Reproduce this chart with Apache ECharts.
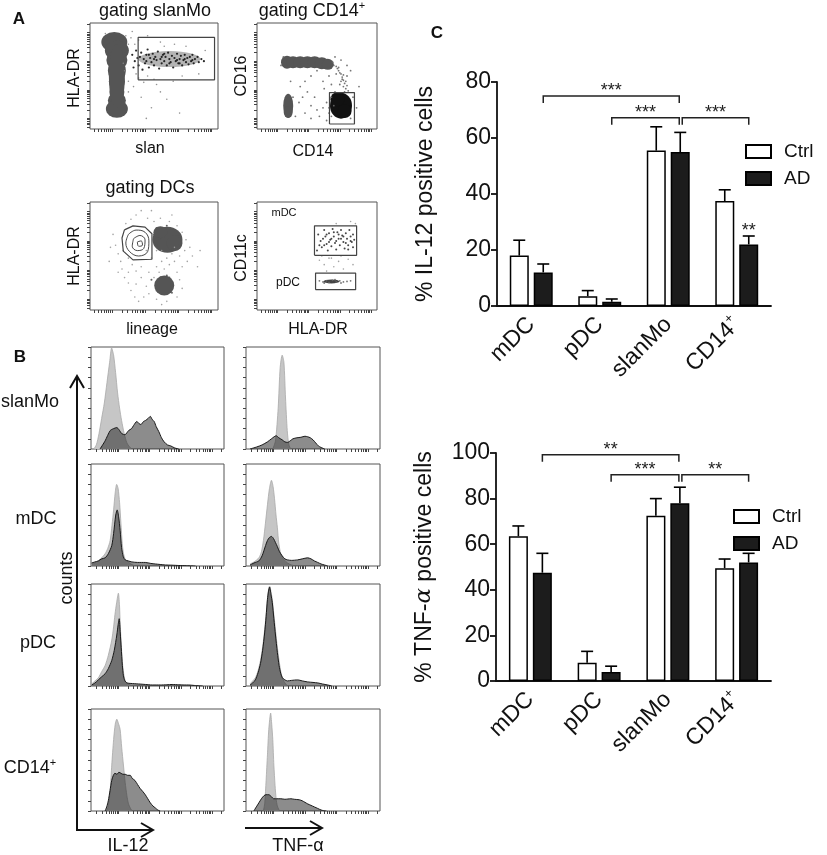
<!DOCTYPE html>
<html>
<head>
<meta charset="utf-8">
<script src="https://cdn.jsdelivr.net/npm/echarts@6/dist/echarts.min.js"></script>
<style>
html, body { margin: 0; padding: 0; background: #fff; }
#fig { width: 827px; height: 855px; }
</style>
</head>
<body>
<div id="fig"></div>
<script>
var FONT = '"Liberation Sans", Arial, Helvetica, sans-serif';

// ---------- panel C : bar charts ----------
var cellTypes = ['mDC', 'pDC', 'slanMo', 'CD14+'];
var il12Ctrl = [18, 3.5, 55.5, 37.5];
var il12CtrlTop = [23.5, 5.5, 64, 41.5];   // mean + SEM
var il12AD = [12, 1.5, 55, 22];
var il12ADTop = [15, 2.5, 62, 25];
var tnfCtrl = [63.5, 8, 72.5, 49.5];
var tnfCtrlTop = [68, 13, 80, 53.5];
var tnfAD = [47.5, 4, 78, 52];
var tnfADTop = [56, 6.5, 85, 56];
// [from category, to category, level, stars]
var il12Sig = [[0, 2, 75, '***'], [1, 2, 67.2, '***'], [2, 3, 67.2, '***']];
var tnfSig = [[0, 2, 99.2, '**'], [1, 2, 90.5, '***'], [2, 3, 90.5, '**']];
var il12Star = [[3, 28.3, '**']];

// ---------- panel B : histograms [x %, height %] ----------
var slanIl12Iso = [[2,0],[4,4],[6,15],[8,30],[10,45],[12,65],[14,85],[15.5,99],[17,92],[18.5,75],[20,55],[21.5,40],[23,28],[25,15],[27,6],[29,2],[31,0]];
var slanIl12 = [[6.8,0],[10.6,8],[14.4,18],[17,20],[19.4,21],[21,19],[23.2,15],[25.5,14],[28.2,18],[30.5,20],[32,23],[34.5,27],[36,25],[37.5,24],[39.5,27],[41,28],[43,30],[44.6,32],[46,29],[47.5,27],[49,22],[51,17],[53,11],[55,7],[57.5,4],[60,3],[63,1],[66,0]];
var slanTnfIso = [[20,0],[22,8],[24,40],[25.5,80],[27,92],[28.3,85],[29.5,50],[30.8,18],[32,4],[33.5,0]];
var slanTnf = [[3,0],[8,2],[12,4],[16,7],[19,10],[21,12],[22.5,13],[24.5,11],[27,9],[29,7],[31,6.5],[33,8],[35,10],[38,11],[41,11.5],[44,12.5],[46,12],[48,11],[50,9],[52,6],[54,3],[56,1.5],[58.7,0]];
var mdcIl12Iso = [[0.5,2],[3,3],[5.5,5],[8,8],[10.6,12],[12.5,17],[14.4,25],[15.8,40],[17,55],[18.2,72],[19.3,80],[20.4,76],[21.5,62],[22.5,42],[23.5,22],[24.5,12],[26,6],[28,4],[30,2],[33,0]];
var mdcIl12 = [[0.5,3],[3,4],[5.5,5],[8,7],[10.6,8],[13,12],[15.6,20],[17,32],[18.6,50],[19.7,55],[20.8,48],[21.9,35],[23,18],[24.3,9],[25.7,6],[28,5],[30.7,4],[35,3.5],[40.8,3.5],[45,2.5],[48.4,2],[52,1.5],[56,1],[61,0.8],[66,0.5],[72,0.3],[78.6,0]];
var mdcTnfIso = [[3,2],[6,4],[9.6,8],[11.5,14],[13,25],[14.5,42],[16,60],[17.5,76],[19,84],[20.2,78],[21.3,66],[22.4,50],[23.4,38],[24.5,22],[26,12],[28.5,6],[31,3],[34,1],[37,0]];
var mdcTnf = [[3,1],[6,3],[9.6,5],[12,10],[14.6,20],[16,25],[17.5,28],[19,29],[20.5,27],[22,23],[23.4,19],[25,14],[27,10],[29,7],[31,6],[34,5.5],[38.5,6],[42,7],[46,8],[48.5,7],[51,5],[53.5,3.5],[56,2],[58.5,1],[61,0]];
var pdcIl12Iso = [[0.5,2],[3,5],[5.5,8],[8,14],[10.6,20],[13,30],[15.6,45],[17,58],[18,70],[19.3,82],[20.6,91],[21.4,80],[22,60],[23,35],[24,18],[25.7,5],[28,2],[31,0]];
var pdcIl12 = [[0.5,1],[3,3],[5.5,6],[8,9],[10.6,12],[13,17],[15.6,25],[17.5,35],[19.4,50],[20.4,60],[21.2,66],[22,52],[22.7,38],[23.6,20],[24.4,10],[25.5,5],[27,3],[30,2.5],[35.8,2],[41,1.5],[46,1],[52,1],[57,1.2],[61,1.5],[66,1.2],[70,1],[73.5,1],[78,0.5],[84,0]];
var pdcTnfIso = [[3,2],[5,5],[7,8],[9,15],[10.8,25],[12.4,38],[13.9,55],[15,70],[16,85],[16.8,94],[17.6,98],[18.6,93],[19.6,85],[20.8,70],[22,55],[23.4,38],[24.7,25],[26,14],[27.2,8],[28.5,4],[29.7,2],[31,0]];
var pdcTnf = [[3,1],[5,3],[7,6],[9,13],[10.8,22],[12.4,35],[13.9,52],[15,68],[16,85],[16.8,93],[17.6,97],[18.6,90],[19.6,82],[20.8,66],[22,50],[23.4,33],[24.7,20],[26,12],[27.2,8],[29,6],[31,5],[34,5.5],[38.5,6],[42,5],[46,4],[50,3.5],[53.6,3],[57,2],[61,1],[64,0]];
var cd14Il12Iso = [[11.8,0],[13,5],[14.4,20],[15.6,45],[17,70],[18.2,85],[19.4,90],[20.6,86],[21.9,80],[23.1,62],[24.4,45],[25.7,28],[27,15],[28.2,7],[29.5,3],[31,0]];
var cd14Il12 = [[10.6,0],[11.8,4],[13,10],[14.3,20],[15.6,30],[16.8,35],[18,37],[19.5,36],[21,38],[22.5,37],[24,36],[25.7,36],[27.5,35],[29.5,35],[31,32],[33,30],[35,26],[37,22],[39,19],[40.8,16],[42.7,12],[44.6,8],[46.5,5],[48.4,3],[50.2,1],[52,0]];
var cd14TnfIso = [[13,0],[14,8],[15,30],[16,55],[17,80],[18.4,96],[19.2,85],[20,70],[20.8,45],[21.7,25],[22.5,12],[23.4,5],[25,0]];
var cd14Tnf = [[5.8,0],[7.7,4],[9.6,8],[11.5,12],[13.4,15],[15,16],[17,16],[19,14],[20.7,12],[23,12],[26,12],[29,11.5],[33.5,12],[36,11.5],[39.8,11],[42,10],[44,8.5],[46,7],[48.5,5.5],[51,4],[53.5,2.5],[56,1],[58,0.3],[60,0]];

// ---------- panel A : dot plots [x %, y %] and blobs [x %, y %, w px, h px] ----------
var slanBlobs = [[19,82,26,20],[21,74,24,20],[21,65,21,20],[21,55,18,22],[21,45,16,20],[21,35,15,18],[21,27,18,16],[21,19,22,18],[21,50,16,64]];
var slanBand = [[33,70],[35,64],[36,74],[38,60],[39,68],[40,72],[41,56],[42,66],[43,62],[44,70],[45,75],[46,58],[47,67],[48,63],[49,71],[50,60],[51,68],[52,65],[53,73],[54,57],[55,66],[56,62],[57,70],[58,64],[59,68],[60,60],[61,72],[62,66],[63,63],[64,69],[65,58],[66,67],[67,64],[68,71],[69,62],[70,66],[71,69],[72,60],[73,65],[74,70],[75,63],[76,67],[77,61],[78,68],[79,64],[80,70],[81,62],[82,66],[84,68],[85,63],[87,66],[89,64],[34,58],[37,67],[44,64],[50,66],[56,68],[62,62],[68,65],[74,66],[80,65],[46,70],[58,71],[70,62]];
var slanSparse = [[30,45],[34,40],[38,48],[42,44],[36,52],[45,50],[50,47],[28,88],[33,92],[45,88],[55,82],[40,30],[48,20],[55,35],[60,28],[70,15],[44,10],[30,35],[27,55],[26,62],[30,80],[52,42],[65,45],[72,50],[85,52],[90,74],[58,78],[66,80],[75,78],[12,90],[32,86],[35,80],[38,84]];
var slanGate = [37.6, 46.4, 97.3, 86.4];

var cd14Blobs = [[25,63,12,13],[30,63,14,12],[36,63,14,12],[42,63,14,12],[48,63,14,12],[54,62,14,12],[59,61,12,11],[26,22,10,24],[26,16,9,12]];
var cd14Core = [[70,22,22,26],[67,28,14,14],[73,17,14,14]];
var cd14Sparse = [[64,60],[66,59],[67,57],[68,55],[69,53],[70,52],[71,49],[71,47],[72,46],[73,43],[72,40],[74,38],[70,45],[75,50],[66,52],[69,42],[73,35],[65,35],[62,30],[58,25],[55,20],[50,18],[45,22],[40,15],[35,25],[38,30],[42,35],[48,30],[52,12],[60,15],[58,8],[45,10],[32,12],[30,30],[36,40],[55,45],[60,50],[50,55],[45,50],[40,45],[28,45],[20,60],[22,68],[65,68],[70,65],[75,60],[78,55],[80,30],[83,20],[78,10],[85,40],[62,42],[56,38],[63,63],[68,58],[72,51],[74,45],[75,41],[76,36],[64,22],[60,20],[62,12]];
var cd14Gate = [60.4, 4.7, 81.2, 34.4];

var dcBlobs = [[60.5,65,30,26],[55,72,14,12],[66,62,16,16],[58,22.7,20,20]];
var dcSparse = [[20,60],[22,52],[24,45],[25,38],[27,30],[30,25],[32,18],[35,12],[38,8],[28,80],[32,84],[36,88],[40,92],[45,85],[50,82],[55,85],[62,82],[68,78],[72,72],[75,65],[78,58],[80,50],[76,45],[72,40],[68,35],[70,28],[72,20],[68,12],[60,8],[52,10],[46,15],[44,22],[40,30],[36,36],[33,42],[40,40],[46,35],[50,30],[52,40],[56,45],[60,48],[64,52],[66,58],[48,48],[44,55],[52,55],[56,55],[62,42],[66,45],[54,35],[58,38],[30,48],[26,55],[18,70],[16,58],[84,40],[86,55],[15,45],[22,35],[48,92],[64,88],[42,12],[56,5],[36,24],[30,35],[70,50],[74,55]];
var dcDense = [[52,60],[54,66],[58,74],[66,74],[70,68],[70,60],[64,56],[50,70],[52,76],[60,78],[48,28],[52,18],[62,30],[64,16],[55,30],[60,32]];
var dcGate = [[26.9,74.2],[33.6,77.9],[43,76.7],[48.4,70.6],[48.4,47],[33.6,46.4],[26,54.5],[25,66.7],[26.9,74.2]];
var dcContours = [
  [[30,70],[36,74],[43,72],[46,64],[45,54],[38,50],[31,54],[28,62],[30,70]],
  [[34,66],[39,69],[43,65],[42,57],[37,55],[33,59],[34,66]],
  [[37,63],[40,64],[41,60],[38,59],[37,63]]
];

var mdcDots = [[51,70],[53,64],[54,58],[56,74],[57,68],[58,61],[59,55],[60,71],[61,65],[62,59],[63,75],[64,68],[65,62],[66,56],[67,72],[68,66],[69,60],[70,74],[71,69],[72,63],[73,57],[74,71],[75,66],[76,60],[77,74],[78,68],[79,63],[80,70],[81,65],[52,60],[55,66],[58,70],[62,66],[66,64],[70,66],[74,62],[78,64],[64,72],[68,70],[72,68],[60,63],[56,60],[80,58],[50,55],[76,56]];
var mdcLoose = [[52,46],[56,42],[60,48],[64,40],[68,45],[72,38],[76,47],[80,42],[58,36],[70,50],[54,50],[82,80],[78,82],[66,80],[62,48]];
var pdcBlob = [[62,26.5,16,4]];
var pdcDots = [[52,27],[55,26],[58,27],[60,25.5],[63,27.5],[66,26],[69,27],[72,26],[75,26.5],[78,27],[56,25],[65,28],[70,25]];
var mdcGate = [47.9, 50.6, 83, 77.9];
var pdcGate = [48.8, 18.8, 82.2, 34.2];

// ---------- helpers ----------
var grids = [], xAxes = [], yAxes = [], series = [];

function logTicks(first, decade) {
  var out = [];
  for (var d = -1; d <= 5; d++) {
    for (var k = 1; k <= 9; k++) {
      var p = first + (d + Math.log10(k)) * decade;
      if (p >= 0 && p <= 100) out.push(+p.toFixed(2));
    }
  }
  return out;
}
var histTicks = logTicks(20.6, 23.5);
var flowXTicks = logTicks(17, 26);
var flowYTicks = logTicks(10, 27);

function boxPanel(box, xt, yt, yInterval) {
  grids.push({ left: box[0], top: box[1], width: box[2], height: box[3],
    show: true, borderColor: '#555', borderWidth: 1, backgroundColor: 'transparent' });
  var gi = grids.length - 1;
  xAxes.push({ gridIndex: gi, type: 'value', min: 0, max: 100,
    axisLine: { show: false }, splitLine: { show: false }, axisLabel: { show: false },
    axisTick: { show: true, customValues: xt, length: 3, lineStyle: { color: '#444', width: 1 } } });
  var ya = { gridIndex: gi, type: 'value', min: 0, max: 100,
    axisLine: { show: false }, splitLine: { show: false }, axisLabel: { show: false },
    axisTick: { show: true, length: 3, lineStyle: { color: '#444', width: 1 } } };
  if (yt) ya.axisTick.customValues = yt; else ya.interval = yInterval;
  yAxes.push(ya);
  return gi;
}

function rectPath(g) {
  return [[g[0], g[1]], [g[2], g[1]], [g[2], g[3]], [g[0], g[3]], [g[0], g[1]]];
}
function gateSeries(gi, path) {
  return { type: 'line', xAxisIndex: gi, yAxisIndex: gi, data: path, showSymbol: false,
    silent: true, z: 6, lineStyle: { color: '#444', width: 1.2 } };
}
function blobSeries(gi, data, color) {
  return { type: 'scatter', xAxisIndex: gi, yAxisIndex: gi, data: data, silent: true, z: 3,
    symbolSize: function (v) { return [v[2], v[3]]; }, itemStyle: { color: color, opacity: 1 } };
}
function dotSeries(gi, data, color, size) {
  return { type: 'scatter', xAxisIndex: gi, yAxisIndex: gi, data: data, silent: true, z: 4,
    symbolSize: size, itemStyle: { color: color, opacity: 0.9 } };
}
function histSeries(gi, iso, sample) {
  series.push({ type: 'line', xAxisIndex: gi, yAxisIndex: gi, data: iso, showSymbol: false,
    silent: true, smooth: 0.25, z: 2, lineStyle: { color: '#a8a8a8', width: 0.8 },
    areaStyle: { color: '#c6c6c6', opacity: 1 } });
  series.push({ type: 'line', xAxisIndex: gi, yAxisIndex: gi, data: sample, showSymbol: false,
    silent: true, smooth: 0.25, z: 3, lineStyle: { color: '#1a1a1a', width: 1 },
    areaStyle: { color: 'rgba(25,25,25,0.5)', opacity: 1 } });
}

// ---------- panel A ----------
var a1 = boxPanel([90, 23, 128, 106], flowXTicks, flowYTicks);
series.push(blobSeries(a1, slanBlobs, '#555'));
series.push(blobSeries(a1, [[62, 66, 62, 16]], 'rgba(40,40,40,0.35)'));
series.push(dotSeries(a1, slanBand, '#151515', 2.2));
series.push(dotSeries(a1, slanSparse, '#888', 1.6));
series.push(gateSeries(a1, rectPath(slanGate)));

var a2 = boxPanel([257, 23, 120, 106], flowXTicks, flowYTicks);
series.push(blobSeries(a2, cd14Blobs, '#555'));
series.push(blobSeries(a2, cd14Core, '#111'));
series.push(dotSeries(a2, cd14Sparse, '#666', 1.8));
series.push(gateSeries(a2, rectPath(cd14Gate)));

var a3 = boxPanel([90, 202, 128, 108], flowXTicks, flowYTicks);
series.push(dotSeries(a3, dcSparse, '#999', 1.6));
series.push(blobSeries(a3, dcBlobs, '#555'));
series.push(dotSeries(a3, dcDense, '#555', 2));
dcContours.forEach(function (c) {
  series.push({ type: 'line', xAxisIndex: a3, yAxisIndex: a3, data: c, showSymbol: false, silent: true,
    smooth: 0.4, z: 5, lineStyle: { color: '#333', width: 0.9 } });
});
series.push(gateSeries(a3, dcGate));

var a4 = boxPanel([257, 202, 120, 108], flowXTicks, flowYTicks);
series.push(dotSeries(a4, mdcDots, '#333', 2));
series.push(dotSeries(a4, mdcLoose, '#999', 1.6));
series.push(blobSeries(a4, pdcBlob, '#444'));
series.push(dotSeries(a4, pdcDots, '#666', 1.8));
series.push(gateSeries(a4, rectPath(mdcGate)));
series.push(gateSeries(a4, rectPath(pdcGate)));

// ---------- panel B ----------
var histRows = [
  [slanIl12Iso, slanIl12, slanTnfIso, slanTnf],
  [mdcIl12Iso, mdcIl12, mdcTnfIso, mdcTnf],
  [pdcIl12Iso, pdcIl12, pdcTnfIso, pdcTnf],
  [cd14Il12Iso, cd14Il12, cd14TnfIso, cd14Tnf]
];
var rowTops = [347, 464, 584, 709];
histRows.forEach(function (r, i) {
  var gl = boxPanel([91, rowTops[i], 133, 102], histTicks, null, 10);
  histSeries(gl, r[0], r[1]);
  var gr = boxPanel([246, rowTops[i], 134, 102], histTicks, null, 10);
  histSeries(gr, r[2], r[3]);
});

// ---------- panel C ----------
var BAR_OFF = 12;
function barPanel(box, maxY, name) {
  grids.push({ left: box[0], top: box[1], width: box[2], height: box[3], show: false });
  var gi = grids.length - 1;
  xAxes.push({ gridIndex: gi, type: 'category', data: cellTypes,
    axisLine: { lineStyle: { color: '#111', width: 1.8 } },
    axisTick: { alignWithLabel: true, length: 6, lineStyle: { color: '#111', width: 1.8 } },
    axisLabel: { rotate: 45, margin: 15, fontSize: 23, color: '#111', fontFamily: FONT,
      formatter: function (v) { return v === 'CD14+' ? '{a|CD14}{s|+}' : v; },
      rich: { a: { fontSize: 23, color: '#111', fontFamily: FONT },
              s: { fontSize: 13, color: '#111', fontFamily: FONT, padding: [0, 0, 14, 0] } } } });
  yAxes.push({ gridIndex: gi, type: 'value', min: 0, max: maxY, interval: 20,
    name: name, nameLocation: 'middle', nameGap: 60, nameRotate: 90,
    nameTextStyle: { fontSize: 23, color: '#111', fontFamily: FONT,
      rich: { g: { fontSize: 23, color: '#111', fontStyle: 'italic', fontFamily: '"DejaVu Serif", serif' } } },
    axisLine: { show: true, lineStyle: { color: '#111', width: 1.8 } },
    axisTick: { show: true, length: 6, lineStyle: { color: '#111', width: 1.8 } },
    axisLabel: { fontSize: 23, color: '#111', margin: 6, fontFamily: FONT },
    splitLine: { show: false } });
  return gi;
}
function barSeries(gi, name, vals, fill) {
  return { type: 'bar', name: name, xAxisIndex: gi, yAxisIndex: gi, data: vals,
    barWidth: 19, barGap: '26%', silent: true, z: 3,
    itemStyle: { color: fill, borderColor: '#000', borderWidth: 1.5 } };
}
function errSeries(gi, vals, tops, dx) {
  return { type: 'custom', xAxisIndex: gi, yAxisIndex: gi, silent: true, z: 2,
    data: vals.map(function (v, i) { return [i, v, tops[i]]; }),
    renderItem: function (params, api) {
      var b = api.coord([api.value(0), api.value(1)]);
      var t = api.coord([api.value(0), api.value(2)]);
      var x = b[0] + dx;
      var st = { stroke: '#000', lineWidth: 1.6 };
      return { type: 'group', children: [
        { type: 'line', shape: { x1: x, y1: b[1], x2: x, y2: t[1] }, style: st },
        { type: 'line', shape: { x1: x - 6, y1: t[1], x2: x + 6, y2: t[1] }, style: st }
      ] };
    } };
}
function sigSeries(gi, list) {
  return { type: 'custom', xAxisIndex: gi, yAxisIndex: gi, silent: true, z: 5,
    data: list.map(function (s) { return [s[0], s[2]]; }),
    renderItem: function (params, api) {
      var s = list[params.dataIndex];
      var a = api.coord([s[0], s[2]]);
      var b = api.coord([s[1], s[2]]);
      var x1 = a[0] + BAR_OFF + (s[0] === 2 ? 2 : 0);
      var x2 = b[0] + BAR_OFF - (s[1] === 2 ? 1 : 0);
      var y = a[1];
      return { type: 'group', children: [
        { type: 'polyline', shape: { points: [[x1, y + 7], [x1, y], [x2, y], [x2, y + 7]] },
          style: { stroke: '#222', lineWidth: 1.5, fill: null } },
        { type: 'text', style: { text: s[3], x: (x1 + x2) / 2, y: y - 5, align: 'center',
          verticalAlign: 'middle', fontSize: 18, fill: '#222', fontFamily: FONT } }
      ] };
    } };
}
function starSeries(gi, list) {
  return { type: 'custom', xAxisIndex: gi, yAxisIndex: gi, silent: true, z: 5,
    data: list.map(function (s) { return [s[0], s[1]]; }),
    renderItem: function (params, api) {
      var s = list[params.dataIndex];
      var p = api.coord([s[0], s[1]]);
      return { type: 'text', style: { text: s[2], x: p[0] + BAR_OFF, y: p[1] + 4, align: 'center',
        verticalAlign: 'middle', fontSize: 18, fill: '#222', fontFamily: FONT } };
    } };
}

var c1 = barPanel([497, 82, 274, 224], 80, '% IL-12 positive cells');
series.push(barSeries(c1, 'Ctrl', il12Ctrl, '#fff'));
series.push(barSeries(c1, 'AD', il12AD, '#1c1c1c'));
series.push(errSeries(c1, il12Ctrl, il12CtrlTop, -BAR_OFF));
series.push(errSeries(c1, il12AD, il12ADTop, BAR_OFF));
series.push(sigSeries(c1, il12Sig));
series.push(starSeries(c1, il12Star));

var c2 = barPanel([496, 453, 275, 228], 100, '% TNF-{g|α} positive cells');
series.push(barSeries(c2, 'Ctrl', tnfCtrl, '#fff'));
series.push(barSeries(c2, 'AD', tnfAD, '#1c1c1c'));
series.push(errSeries(c2, tnfCtrl, tnfCtrlTop, -BAR_OFF));
series.push(errSeries(c2, tnfAD, tnfADTop, BAR_OFF));
series.push(sigSeries(c2, tnfSig));

function legendAt(left, top) {
  return { data: ['Ctrl', 'AD'], orient: 'vertical', left: left, top: top, padding: 0,
    itemWidth: 25, itemHeight: 13, itemGap: 8, selectedMode: false, icon: 'rect',
    textStyle: { fontSize: 19, color: '#111', fontFamily: FONT, lineHeight: 13, padding: [0, 0, 0, 8] } };
}

// ---------- free text and arrows ----------
function txt(s, x, y, size, opts) {
  opts = opts || {};
  var el = { type: 'text', x: x, y: y, rotation: opts.rot || 0, silent: true,
    style: { text: s, fontSize: size, fontFamily: FONT, fill: '#111',
      fontWeight: opts.bold ? 'bold' : 'normal', align: 'center', verticalAlign: 'middle' } };
  if (opts.rich) el.style.rich = opts.rich;
  return el;
}
var V = Math.PI / 2;
var supRich = function (size) {
  return { a: { fontSize: size, fontFamily: FONT, fill: '#111' },
           s: { fontSize: Math.round(size * 0.6), fontFamily: FONT, fill: '#111', padding: [0, 0, Math.round(size * 0.55), 0] } };
};
var arrowStyle = { stroke: '#111', lineWidth: 2, fill: null };
var graphics = [
  txt('A', 19, 19, 17, { bold: true }),
  txt('B', 20, 357, 17, { bold: true }),
  txt('C', 437, 33, 17, { bold: true }),
  txt('gating slanMo', 155, 11, 18),
  txt('{a|gating CD14}{s|+}', 312, 11, 18, { rich: supRich(18) }),
  txt('gating DCs', 150, 188, 18),
  txt('HLA-DR', 75, 78, 16, { rot: V }),
  txt('slan', 150, 149, 16),
  txt('CD16', 242, 76, 16, { rot: V }),
  txt('CD14', 313, 152, 16),
  txt('HLA-DR', 75, 256, 16, { rot: V }),
  txt('lineage', 152, 330, 16),
  txt('CD11c', 242, 258, 16, { rot: V }),
  txt('HLA-DR', 318, 330, 16),
  txt('mDC', 284, 213, 11),
  txt('pDC', 288, 283, 12),
  txt('slanMo', 30, 402, 18),
  txt('mDC', 36, 519, 18),
  txt('pDC', 38, 643, 18),
  txt('{a|CD14}{s|+}', 30, 768, 18, { rich: supRich(18) }),
  txt('counts', 67, 578, 18, { rot: V }),
  txt('IL-12', 128, 846, 18),
  txt('TNF-α', 298, 846, 18),
  { type: 'polyline', silent: true, shape: { points: [[77, 830], [77, 376]] }, style: arrowStyle },
  { type: 'polyline', silent: true, shape: { points: [[70, 388], [77, 376], [84, 388]] }, style: arrowStyle },
  { type: 'polyline', silent: true, shape: { points: [[76, 830], [153, 830]] }, style: arrowStyle },
  { type: 'polyline', silent: true, shape: { points: [[141, 823], [153, 830], [141, 837]] }, style: arrowStyle },
  { type: 'polyline', silent: true, shape: { points: [[245, 828], [322, 828]] }, style: arrowStyle },
  { type: 'polyline', silent: true, shape: { points: [[310, 821], [322, 828], [310, 835]] }, style: arrowStyle }
];

var chart = echarts.init(document.getElementById('fig'));
chart.setOption({
  backgroundColor: '#fff',
  animation: false,
  textStyle: { fontFamily: FONT },
  grid: grids,
  xAxis: xAxes,
  yAxis: yAxes,
  legend: [legendAt(745, 142), legendAt(733, 507)],
  graphic: graphics,
  series: series
});
</script>
</body>
</html>
